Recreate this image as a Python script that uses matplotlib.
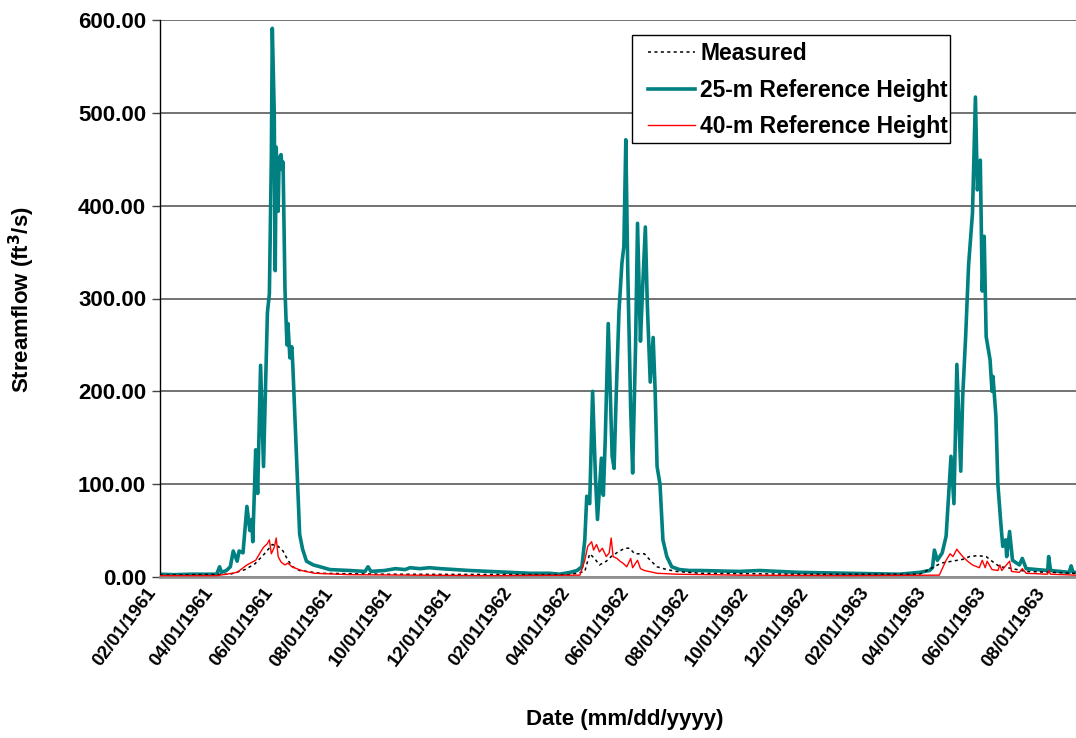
import numpy as np
import pandas as pd
import matplotlib
matplotlib.use("Agg")
import matplotlib.pyplot as plt
from matplotlib.patches import Rectangle
from matplotlib.transforms import ScaledTranslation, blended_transform_factory

plt.rcParams['font.family'] = ['Liberation Sans', 'DejaVu Sans']

# Simulated streamflow, 25-m reference height (ft3/s)
ref25_dates = [
    '1961-02-01', '1961-02-15', '1961-03-04', '1961-03-19', '1961-03-31', '1961-04-03',
    '1961-04-05', '1961-04-10', '1961-04-14', '1961-04-17', '1961-04-21', '1961-04-23',
    '1961-04-27', '1961-05-01', '1961-05-04', '1961-05-06', '1961-05-07', '1961-05-10',
    '1961-05-12', '1961-05-15', '1961-05-18', '1961-05-22', '1961-05-24', '1961-05-26',
    '1961-05-27', '1961-05-29', '1961-05-30', '1961-05-31', '1961-06-02', '1961-06-03',
    '1961-06-05', '1961-06-06', '1961-06-07', '1961-06-09', '1961-06-11', '1961-06-12',
    '1961-06-14', '1961-06-16', '1961-06-17', '1961-06-22', '1961-06-24', '1961-06-27',
    '1961-07-01', '1961-07-08', '1961-07-15', '1961-07-25', '1961-08-14', '1961-08-30',
    '1961-09-02', '1961-09-05', '1961-09-19', '1961-09-30', '1961-10-10', '1961-10-15',
    '1961-10-25', '1961-11-04', '1961-11-15', '1961-11-30', '1961-12-15', '1962-01-05',
    '1962-01-25', '1962-02-15', '1962-03-07', '1962-03-17', '1962-03-28', '1962-04-04',
    '1962-04-09', '1962-04-12', '1962-04-14', '1962-04-17', '1962-04-20', '1962-04-23',
    '1962-04-25', '1962-04-29', '1962-05-01', '1962-05-03', '1962-05-06', '1962-05-08',
    '1962-05-10', '1962-05-12', '1962-05-14', '1962-05-17', '1962-05-20', '1962-05-22',
    '1962-05-24', '1962-05-26', '1962-05-29', '1962-05-31', '1962-06-03', '1962-06-05',
    '1962-06-08', '1962-06-10', '1962-06-13', '1962-06-15', '1962-06-18', '1962-06-21',
    '1962-06-23', '1962-06-25', '1962-06-28', '1962-07-01', '1962-07-05', '1962-07-10',
    '1962-07-18', '1962-07-28', '1962-08-08', '1962-09-17', '1962-10-08', '1962-11-17',
    '1963-01-08', '1963-02-28', '1963-03-21', '1963-03-31', '1963-04-03', '1963-04-05',
    '1963-04-08', '1963-04-13', '1963-04-17', '1963-04-22', '1963-04-25', '1963-04-28',
    '1963-05-02', '1963-05-04', '1963-05-07', '1963-05-10', '1963-05-14', '1963-05-17',
    '1963-05-19', '1963-05-22', '1963-05-24', '1963-05-26', '1963-05-28', '1963-06-01',
    '1963-06-03', '1963-06-04', '1963-06-07', '1963-06-09', '1963-06-12', '1963-06-14',
    '1963-06-17', '1963-06-18', '1963-06-21', '1963-06-24', '1963-07-01', '1963-07-04',
    '1963-07-08', '1963-07-30', '1963-07-31', '1963-08-02', '1963-08-21', '1963-08-23',
    '1963-08-25', '1963-08-28',
]
ref25_flow = [
    3, 2.5, 3, 3, 3, 11,
    5, 7, 11, 28, 17, 28,
    26, 76, 50, 62, 38, 137,
    90, 228, 119, 285, 305, 451,
    591, 500, 330, 463, 394, 451,
    455, 439, 447, 309, 250, 273,
    236, 248, 228, 98, 46, 30,
    17, 13, 11, 8, 7, 6,
    11, 6, 7, 9, 8, 10,
    9, 10, 9, 8, 7, 6,
    5, 4, 4, 3, 5, 7,
    11, 40, 87, 79, 200, 105,
    62, 128, 88, 150, 273, 200,
    130, 117, 190, 286, 338, 356,
    471, 330, 180, 112, 250, 381,
    254, 306, 377, 294, 210, 258,
    202, 119, 100, 40, 22, 11,
    8, 7, 7, 6, 7, 5,
    4, 3, 5, 7, 10, 29,
    18, 26, 44, 130, 79, 229,
    114, 195, 259, 336, 392, 517,
    417, 449, 308, 367, 259, 234,
    200, 216, 173, 100, 58, 33,
    40, 22, 49, 18, 13, 20,
    9, 7, 22, 7, 5, 12,
    5, 5,
]

# Simulated streamflow, 40-m reference height (ft3/s)
ref40_dates = [
    '1961-02-01', '1961-03-31', '1961-04-10', '1961-04-21', '1961-05-01', '1961-05-10',
    '1961-05-15', '1961-05-18', '1961-05-22', '1961-05-24', '1961-05-26', '1961-05-29',
    '1961-05-31', '1961-06-02', '1961-06-05', '1961-06-09', '1961-06-12', '1961-06-16',
    '1961-06-26', '1961-07-09', '1961-08-14', '1961-10-15', '1962-01-05', '1962-04-07',
    '1962-04-12', '1962-04-15', '1962-04-19', '1962-04-21', '1962-04-24', '1962-04-27',
    '1962-04-30', '1962-05-04', '1962-05-07', '1962-05-09', '1962-05-11', '1962-05-15',
    '1962-05-18', '1962-05-21', '1962-05-25', '1962-05-29', '1962-05-31', '1962-06-05',
    '1962-06-08', '1962-06-12', '1962-06-25', '1962-07-15', '1962-09-17', '1963-01-08',
    '1963-04-10', '1963-04-17', '1963-04-21', '1963-04-24', '1963-04-28', '1963-04-30',
    '1963-05-04', '1963-05-09', '1963-05-14', '1963-05-21', '1963-05-24', '1963-05-27',
    '1963-05-29', '1963-06-03', '1963-06-09', '1963-06-11', '1963-06-13', '1963-06-21',
    '1963-06-23', '1963-07-01', '1963-07-04', '1963-07-08', '1963-07-30', '1963-07-31',
    '1963-08-02', '1963-08-28',
]
ref40_flow = [
    1.5, 1.5, 3, 5, 13, 18,
    27, 32, 36, 40, 25, 32,
    42, 22, 16, 13, 15, 11,
    7, 4, 2.5, 2, 1.5, 2,
    18, 33, 38, 29, 35, 27,
    31, 22, 26, 42, 22, 20,
    17, 15, 11, 20, 10, 18,
    9, 7, 4, 3, 2, 1.5,
    2, 18, 25, 22, 30, 27,
    22, 17, 13, 10, 18, 10,
    17, 8, 7, 13, 7, 17,
    6, 5, 9, 4, 3, 7,
    3, 2,
]

# Measured streamflow (ft3/s)
measured_dates = [
    '1961-02-01', '1961-04-14', '1961-04-29', '1961-05-09', '1961-05-19', '1961-05-27',
    '1961-06-02', '1961-06-07', '1961-06-12', '1961-06-17', '1961-06-24', '1961-07-15',
    '1961-09-19', '1962-03-28', '1962-04-12', '1962-04-17', '1962-04-22', '1962-04-27',
    '1962-05-04', '1962-05-09', '1962-05-16', '1962-05-23', '1962-05-28', '1962-06-02',
    '1962-06-07', '1962-06-12', '1962-06-18', '1962-06-25', '1962-07-05', '1962-07-15',
    '1962-08-08', '1962-11-17', '1963-03-21', '1963-04-03', '1963-04-12', '1963-05-04',
    '1963-05-11', '1963-05-19', '1963-05-28', '1963-06-03', '1963-06-11', '1963-06-19',
    '1963-07-08', '1963-08-28',
]
measured_flow = [
    2, 3, 8, 14, 25, 35,
    33, 28, 18, 11, 7, 4,
    3, 2.5, 6, 25, 20, 13,
    17, 22, 27, 31, 31, 25,
    25, 25, 18, 11, 8, 6,
    4, 3, 3, 10, 15, 19,
    22, 23, 22, 17, 11, 10,
    6, 4,
]

tick_dates = ['1961-02-01', '1961-04-01', '1961-06-01', '1961-08-01', '1961-10-01',
              '1961-12-01', '1962-02-01', '1962-04-01', '1962-06-01', '1962-08-01',
              '1962-10-01', '1962-12-01', '1963-02-01', '1963-04-01', '1963-06-01',
              '1963-08-01']
y_ticks = [0, 100, 200, 300, 400, 500, 600]

fig = plt.figure(figsize=(10.76, 7.38), dpi=100)
ax = fig.add_axes([160 / 1076, 1 - 577 / 738, 1 - 160 / 1076, (577 - 20) / 738])

teal = '#008080'
ax.plot(pd.to_datetime(measured_dates), measured_flow, color='black',
        linestyle=(0, (2, 2.2)), linewidth=1.1, label='Measured', zorder=3)
ax.plot(pd.to_datetime(ref25_dates), ref25_flow, color=teal, linewidth=2.6,
        label='25-m Reference Height', zorder=2, solid_joinstyle='round')
ax.plot(pd.to_datetime(ref40_dates), ref40_flow, color='#ff0000', linewidth=1.0,
        label='40-m Reference Height', zorder=4)

ax.set_xlim(pd.Timestamp('1961-02-01'), pd.Timestamp('1963-08-28'))
ax.set_ylim(0, 600)

ax.set_yticks(y_ticks)
ax.set_yticklabels([f'{v:.2f}' for v in y_ticks], fontsize=16, fontweight='bold')
ax.yaxis.grid(True, color='#5a5a5a', linewidth=1.2)
ax.set_axisbelow(True)

# Date labels along the x axis, slanted upward to the right
ticks = pd.to_datetime(tick_dates)
ax.set_xticks(ticks)
ax.set_xticklabels([])
ax.tick_params(axis='x', length=0)
xlab_trans = blended_transform_factory(ax.transData, ax.transAxes) + \
    ScaledTranslation(-14 / 100, -8 / 100, fig.dpi_scale_trans)
for t in ticks:
    ax.text(t, 0, t.strftime('%m/%d/%Y'), transform=xlab_trans, rotation=53,
            rotation_mode='anchor', ha='right', va='top', fontsize=13.5,
            fontweight='bold', clip_on=False)

ax.tick_params(axis='y', length=6, width=1, direction='out', pad=4, color='#444444')

for side in ('top', 'right'):
    ax.spines[side].set_visible(False)
ax.spines['left'].set_color('black')
ax.spines['left'].set_linewidth(1.0)
ax.spines['bottom'].set_color('#909090')
ax.spines['bottom'].set_linewidth(2.0)

ax.set_ylabel('Streamflow (ft$^\\mathbf{3}$/s)', fontsize=16, fontweight='bold')
ax.yaxis.set_label_coords(22 / 1076, 1 - 300 / 738, transform=fig.transFigure)
ax.set_xlabel('Date (mm/dd/yyyy)', fontsize=16, fontweight='bold')
ax.xaxis.set_label_coords(625 / 1076, 1 - 720 / 738, transform=fig.transFigure)
ax.xaxis.label.set_va('center')
ax.yaxis.label.set_va('center')

# Legend box, then the legend entries on top of it
ax.add_patch(Rectangle((632 / 1076, 1 - 143 / 738), (950 - 632) / 1076,
                       (143 - 35) / 738, transform=fig.transFigure,
                       facecolor='white', edgecolor='black', linewidth=1.0,
                       zorder=6, clip_on=False))
leg = ax.legend(loc='upper left', bbox_to_anchor=(648 / 1076, 1 - 42 / 738),
                bbox_transform=fig.transFigure, frameon=False,
                prop={'weight': 'bold', 'size': 16.5}, handlelength=2.05,
                handletextpad=0.22, labelspacing=0.6, borderpad=0,
                borderaxespad=0)
leg.set_zorder(7)

fig.savefig('out.png', dpi=100)
